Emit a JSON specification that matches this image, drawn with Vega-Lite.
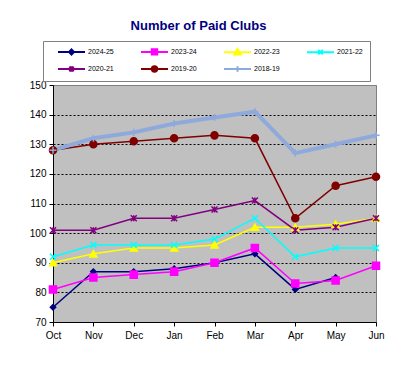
{
  "$schema": "https://vega.github.io/schema/vega-lite/v6.json",
  "autosize": "none",
  "width": 323,
  "height": 237,
  "padding": {"left": 53, "top": 85, "right": 35, "bottom": 49},
  "background": "white",
  "title": {"text": "Number of Paid Clubs", "font": "Liberation Sans", "fontSize": 13, "fontWeight": "bold", "color": "#000080", "anchor": "middle", "dx": -16, "dy": 13, "baseline": "alphabetic", "offset": 11},
  "config": {
    "font": "Liberation Sans",
    "view": {"fill": "#C0C0C0", "stroke": "#808080", "strokeWidth": 1}
  },
  "data": {"values": [
    {"season": "2024-25", "month": "Oct", "clubs": 75},
    {"season": "2024-25", "month": "Nov", "clubs": 87},
    {"season": "2024-25", "month": "Dec", "clubs": 87},
    {"season": "2024-25", "month": "Jan", "clubs": 88},
    {"season": "2024-25", "month": "Feb", "clubs": 90},
    {"season": "2024-25", "month": "Mar", "clubs": 93},
    {"season": "2024-25", "month": "Apr", "clubs": 81},
    {"season": "2024-25", "month": "May", "clubs": 85},
    {"season": "2023-24", "month": "Oct", "clubs": 81},
    {"season": "2023-24", "month": "Nov", "clubs": 85},
    {"season": "2023-24", "month": "Dec", "clubs": 86},
    {"season": "2023-24", "month": "Jan", "clubs": 87},
    {"season": "2023-24", "month": "Feb", "clubs": 90},
    {"season": "2023-24", "month": "Mar", "clubs": 95},
    {"season": "2023-24", "month": "Apr", "clubs": 83},
    {"season": "2023-24", "month": "May", "clubs": 84},
    {"season": "2023-24", "month": "Jun", "clubs": 89},
    {"season": "2022-23", "month": "Oct", "clubs": 90},
    {"season": "2022-23", "month": "Nov", "clubs": 93},
    {"season": "2022-23", "month": "Dec", "clubs": 95},
    {"season": "2022-23", "month": "Jan", "clubs": 95},
    {"season": "2022-23", "month": "Feb", "clubs": 96},
    {"season": "2022-23", "month": "Mar", "clubs": 102},
    {"season": "2022-23", "month": "Apr", "clubs": 102},
    {"season": "2022-23", "month": "May", "clubs": 103},
    {"season": "2022-23", "month": "Jun", "clubs": 105},
    {"season": "2021-22", "month": "Oct", "clubs": 92},
    {"season": "2021-22", "month": "Nov", "clubs": 96},
    {"season": "2021-22", "month": "Dec", "clubs": 96},
    {"season": "2021-22", "month": "Jan", "clubs": 96},
    {"season": "2021-22", "month": "Feb", "clubs": 98},
    {"season": "2021-22", "month": "Mar", "clubs": 105},
    {"season": "2021-22", "month": "Apr", "clubs": 92},
    {"season": "2021-22", "month": "May", "clubs": 95},
    {"season": "2021-22", "month": "Jun", "clubs": 95},
    {"season": "2020-21", "month": "Oct", "clubs": 101},
    {"season": "2020-21", "month": "Nov", "clubs": 101},
    {"season": "2020-21", "month": "Dec", "clubs": 105},
    {"season": "2020-21", "month": "Jan", "clubs": 105},
    {"season": "2020-21", "month": "Feb", "clubs": 108},
    {"season": "2020-21", "month": "Mar", "clubs": 111},
    {"season": "2020-21", "month": "Apr", "clubs": 101},
    {"season": "2020-21", "month": "May", "clubs": 102},
    {"season": "2020-21", "month": "Jun", "clubs": 105},
    {"season": "2019-20", "month": "Oct", "clubs": 128},
    {"season": "2019-20", "month": "Nov", "clubs": 130},
    {"season": "2019-20", "month": "Dec", "clubs": 131},
    {"season": "2019-20", "month": "Jan", "clubs": 132},
    {"season": "2019-20", "month": "Feb", "clubs": 133},
    {"season": "2019-20", "month": "Mar", "clubs": 132},
    {"season": "2019-20", "month": "Apr", "clubs": 105},
    {"season": "2019-20", "month": "May", "clubs": 116},
    {"season": "2019-20", "month": "Jun", "clubs": 119},
    {"season": "2018-19", "month": "Oct", "clubs": 128},
    {"season": "2018-19", "month": "Nov", "clubs": 132},
    {"season": "2018-19", "month": "Dec", "clubs": 134},
    {"season": "2018-19", "month": "Jan", "clubs": 137},
    {"season": "2018-19", "month": "Feb", "clubs": 139},
    {"season": "2018-19", "month": "Mar", "clubs": 141},
    {"season": "2018-19", "month": "Apr", "clubs": 127},
    {"season": "2018-19", "month": "May", "clubs": 130},
    {"season": "2018-19", "month": "Jun", "clubs": 133}
  ]},
  "encoding": {
    "x": {"field": "month", "type": "ordinal", "sort": ["Oct","Nov","Dec","Jan","Feb","Mar","Apr","May","Jun"],
      "scale": {"type": "point", "padding": 0},
      "axis": {"title": null, "labelAngle": 0, "labelFontSize": 10, "labelColor": "black", "domainColor": "black", "tickColor": "black", "tickSize": 4, "labelPadding": 4, "grid": false}},
    "y": {"field": "clubs", "type": "quantitative",
      "scale": {"domain": [70, 150], "nice": false, "zero": false},
      "axis": {"title": null, "values": [70,80,90,100,110,120,130,140,150], "labelFontSize": 10, "labelColor": "black", "domainColor": "black", "tickColor": "black", "tickSize": 4, "labelPadding": 3,
        "grid": true,
        "gridColor": {"condition": {"test": "datum.value == 150", "value": "#808080"}, "value": "black"},
        "gridDash": {"condition": {"test": "datum.value == 150", "value": []}, "value": [2, 2]},
        "gridWidth": 1}}
  },
  "layer": [
    {
      "mark": {"type": "line"},
      "encoding": {
        "strokeWidth": {"field": "season", "type": "nominal",
          "scale": {"type": "ordinal", "domain": ["2018-19","2019-20","2020-21","2021-22","2022-23","2023-24","2024-25"], "range": [4,1.5,1.5,1.5,1.5,1.5,1.5]},
          "legend": null},
        "color": {"field": "season", "type": "nominal",
          "scale": {"domain": ["2024-25","2023-24","2022-23","2021-22","2020-21","2019-20","2018-19"],
                    "range": ["#000080","#FF00FF","#FFFF00","#00FFFF","#800080","#800000","#8EA9DB"]},
          "legend": {"title": " ", "titleOrient": "right", "titlePadding": 2, "orient": "none", "legendX": -10, "legendY": -44, "direction": "horizontal", "columns": 4, "gridAlign": "all",
            "columnPadding": 17, "rowPadding": 2.5, "padding": 5, "strokeColor": "#808080", "fillColor": "white",
            "labelFontSize": 7, "labelColor": "black", "labelOffset": 11, "symbolOffset": 18, "symbolSize": 81, "symbolStrokeWidth": 2,
            "symbolType": "M-3,0L3,0",
            "encode": {"symbols": {"update": {
              "shape": {"signal": "datum.value === '2024-25' ? 'M-3,0L3,0M0,-0.55L0.55,0L0,0.55L-0.55,0Z' : datum.value === '2023-24' ? 'M-3,0L3,0M-0.6,-0.6L0.6,-0.6L0.6,0.6L-0.6,0.6Z' : datum.value === '2022-23' ? 'M-3,0L3,0M0,-0.7L0.7,0.5L-0.7,0.5Z' : datum.value === '2021-22' ? 'M-3,0L3,0M-0.5,-0.5L0.5,0.5M-0.5,0.5L0.5,-0.5' : datum.value === '2020-21' ? 'M-3,0L3,0M-0.5,-0.5L0.5,0.5M-0.5,0.5L0.5,-0.5M0,-0.6L0,0.6' : datum.value === '2019-20' ? 'M-3,0L3,0M0.6,0A0.6,0.6,0,1,1,-0.6,0A0.6,0.6,0,1,1,0.6,0Z' : 'M-3,0L3,0M0,-0.6L0,0.6'"},
              "fill": {"signal": "scale('color', datum.value)"},
              "fillOpacity": {"value": 1}
            }}}}}
      }
    },
    {
      "mark": {"type": "point", "filled": true, "opacity": 1, "strokeWidth": 1.5},
      "encoding": {
        "shape": {"field": "season", "type": "nominal",
          "scale": {"domain": ["2018-19","2019-20","2020-21","2021-22","2022-23","2023-24","2024-25"],
                    "range": ["M-1,0L1,0M0,-1L0,1","circle","M-1,-1L1,1M-1,1L1,-1M0,-1L0,1","M-1,-1L1,1M-1,1L1,-1","triangle-up","square","diamond"]},
          "legend": null},
        "size": {"field": "season", "type": "nominal",
          "scale": {"type": "ordinal", "domain": ["2018-19","2019-20","2020-21","2021-22","2022-23","2023-24","2024-25"], "range": [50, 50, 36, 36, 50, 50, 28]},
          "legend": null},
        "fill": {"field": "season", "type": "nominal",
          "scale": {"domain": ["2018-19","2019-20","2020-21","2021-22","2022-23","2023-24","2024-25"],
                    "range": ["#8EA9DB","#800000","#800080","#00FFFF","#FFFF00","#FF00FF","#000080"]},
          "legend": null},
        "stroke": {"field": "season", "type": "nominal",
          "scale": {"domain": ["2018-19","2019-20","2020-21","2021-22","2022-23","2023-24","2024-25"],
                    "range": ["#8EA9DB","#800000","#800080","#00FFFF","#FFFF00","#FF00FF","#000080"]},
          "legend": null}
      }
    }
  ]
}
